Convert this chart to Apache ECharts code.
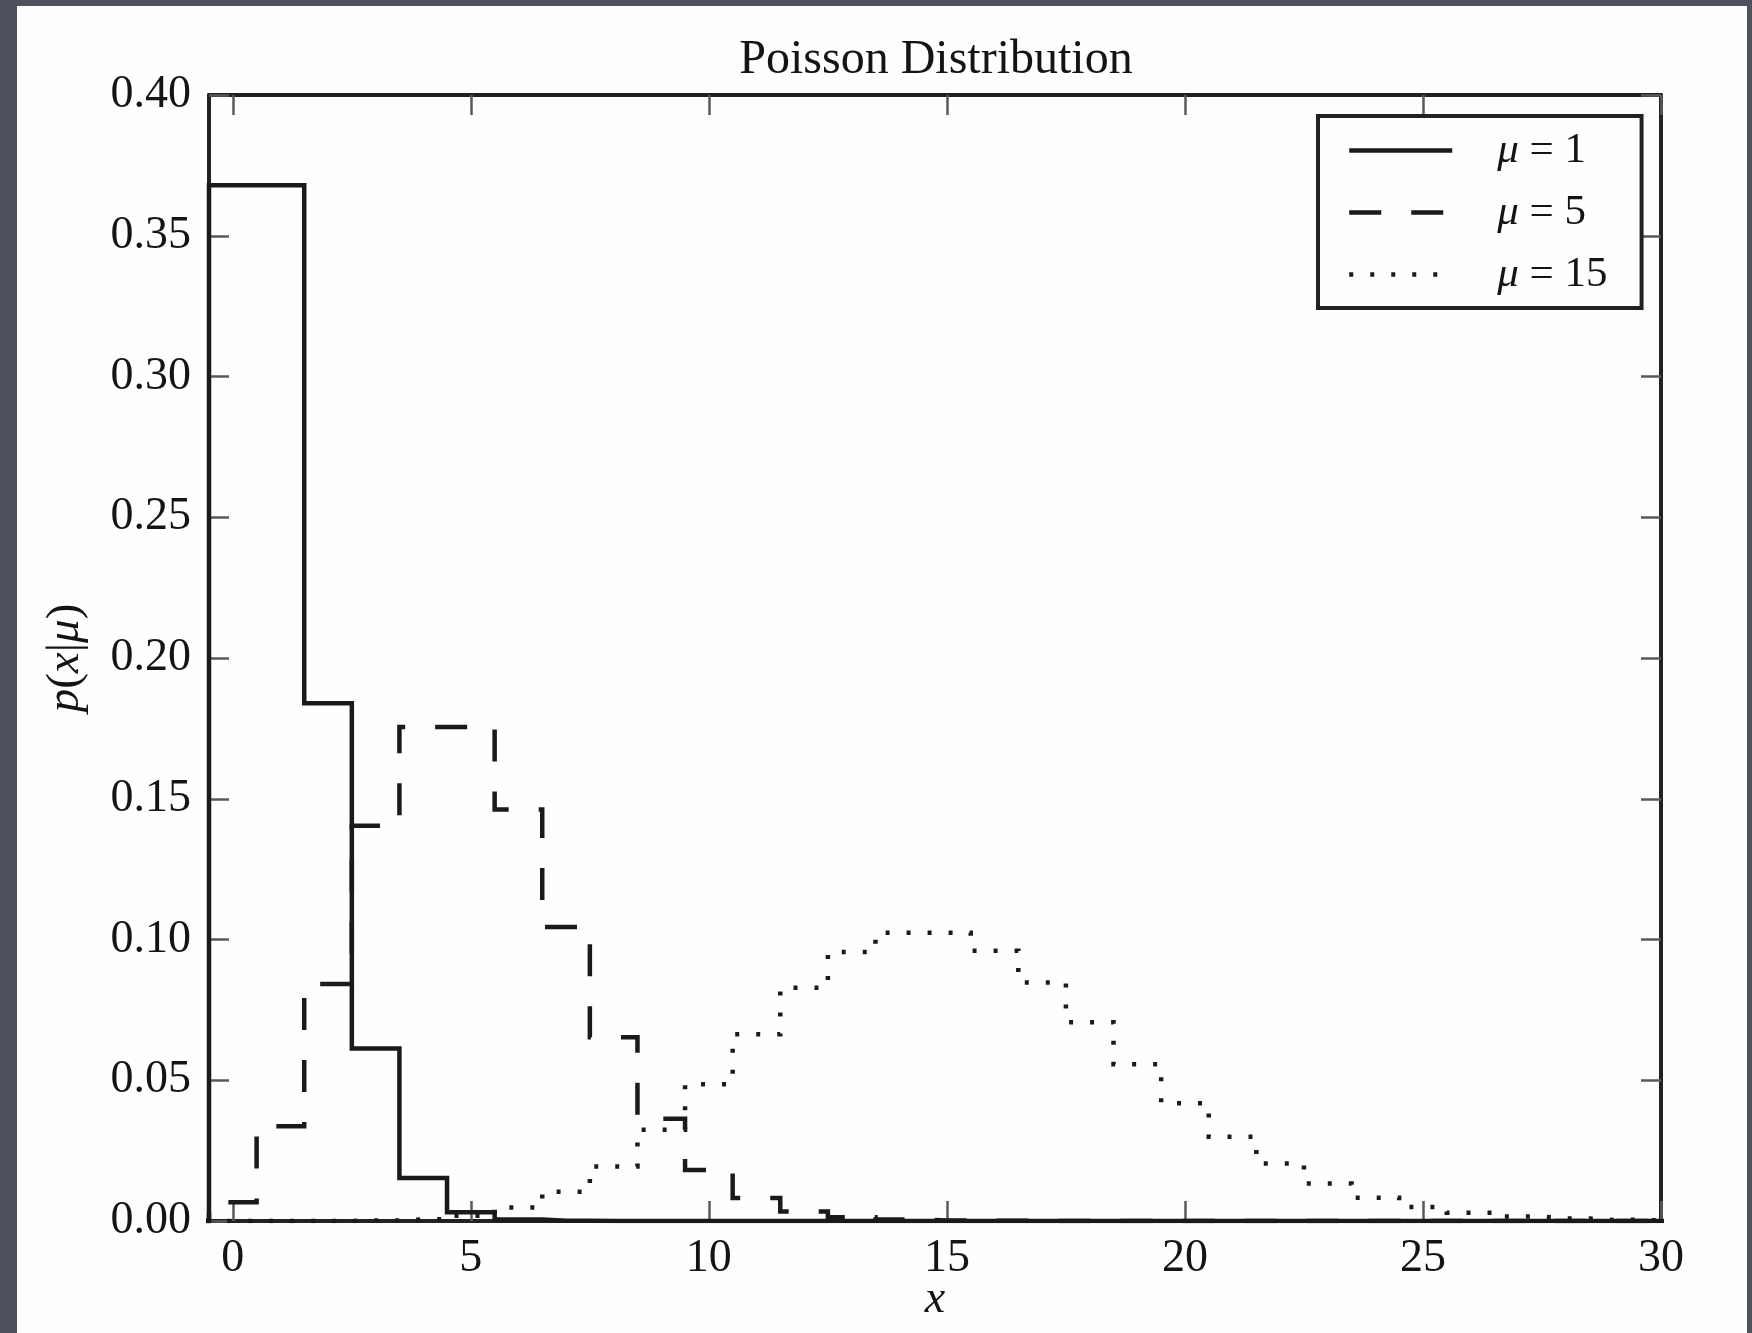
<!DOCTYPE html>
<html>
<head>
<meta charset="utf-8">
<script src="https://cdn.jsdelivr.net/npm/echarts@6/dist/echarts.min.js"></script>
<style>
  html, body { margin: 0; padding: 0; width: 1752px; height: 1333px; overflow: hidden; background: #4e525d; }
  #panel { position: absolute; left: 17px; top: 6px; width: 1730px; height: 1327px; background: #fefefc; }
  #chart { position: absolute; left: 0; top: 0; width: 1752px; height: 1333px; }
</style>
</head>
<body>
<div id="panel"></div>
<div id="chart"></div>
<script>
// integer outcomes x
const xs = [-1, 0, 1, 2, 3, 4, 5, 6, 7, 8, 9, 10, 11, 12, 13, 14, 15, 16,
            17, 18, 19, 20, 21, 22, 23, 24, 25, 26, 27, 28, 29, 30, 31, 32];

// p(x|mu) for mu = 1
const pMu1 = [0, 0.3679, 0.3679, 0.1839, 0.0613, 0.0153, 0.0031, 0.0005, 0.0001, 0,
              0, 0, 0, 0, 0, 0, 0, 0, 0, 0, 0, 0, 0, 0, 0, 0, 0, 0, 0, 0, 0, 0, 0, 0];

// p(x|mu) for mu = 5
const pMu5 = [0, 0.0067, 0.0337, 0.0842, 0.1404, 0.1755, 0.1755, 0.1462, 0.1044, 0.0653,
              0.0363, 0.0181, 0.0082, 0.0034, 0.0013, 0.0005, 0.0002, 0.0001,
              0, 0, 0, 0, 0, 0, 0, 0, 0, 0, 0, 0, 0, 0, 0, 0];

// p(x|mu) for mu = 15
const pMu15 = [0, 0, 0, 0, 0.0002, 0.0006, 0.0019, 0.0048, 0.0104, 0.0194,
               0.0324, 0.0486, 0.0663, 0.0829, 0.0956, 0.1024, 0.1024, 0.0960, 0.0847, 0.0706,
               0.0557, 0.0418, 0.0299, 0.0204, 0.0133, 0.0083, 0.0050, 0.0029, 0.0016, 0.0009,
               0.0004, 0.0002, 0.0001, 0.0001];

const muValues = [1, 5, 15];
const xTicks = [0, 5, 10, 15, 20, 25, 30];

const FONT = 'Liberation Serif';
const INK = '#1a1a1a';
const SPINE = { show: true, onZero: false, lineStyle: { color: '#222', width: 4 } };
const TICK = { show: true, inside: true, length: 20, lineStyle: { color: '#5a5a5a', width: 2.5 } };

const pairs = ys => xs.map((x, i) => [x, ys[i]]);
const dashTypes = ['solid', [32, 30], [4, 17]];
const curves = [pMu1, pMu5, pMu15];

const series = curves.map((ys, k) => ({
  name: 'μ = ' + muValues[k],
  type: 'line',
  step: 'middle',
  symbol: 'none',
  showSymbol: false,
  clip: true,
  color: INK,
  itemStyle: { color: INK },
  lineStyle: { color: INK, width: 4.5, type: dashTypes[k], cap: 'butt', join: 'miter' },
  data: pairs(ys),
  z: 3
}));

const chart = echarts.init(document.getElementById('chart'), null, { renderer: 'canvas' });
chart.setOption({
  animation: false,
  backgroundColor: 'transparent',
  title: {
    text: 'Poisson Distribution',
    left: 936,
    textAlign: 'center',
    top: 36,
    padding: 0,
    textStyle: { fontFamily: FONT, fontSize: 48, fontWeight: 'normal', color: '#141414' }
  },
  grid: { left: 209, right: 91, top: 95, bottom: 112, outerBoundsMode: 'none', containLabel: false },
  legend: {
    orient: 'vertical',
    left: 1318,
    top: 116,
    padding: [13, 34, 12, 29],
    itemWidth: 103,
    itemHeight: 44,
    itemGap: 19,
    borderColor: '#222',
    borderWidth: 4,
    backgroundColor: '#fefefc',
    itemStyle: { opacity: 0, color: 'transparent', borderWidth: 0 },
    lineStyle: { width: 4.5 },
    data: series.map(s => s.name),
    formatter: name => '{i|μ}' + name.slice(1),
    textStyle: {
      fontFamily: FONT, fontSize: 43, color: '#141414', padding: [0, 0, 0, 40],
      rich: { i: { fontFamily: FONT, fontSize: 43, fontStyle: 'italic', color: '#141414' } }
    }
  },
  xAxis: [
    {
      type: 'value', position: 'bottom', min: -0.5, max: 30,
      axisLine: SPINE,
      axisTick: Object.assign({ customValues: xTicks }, TICK),
      splitLine: { show: false },
      axisLabel: { customValues: xTicks, margin: 15, fontFamily: FONT, fontSize: 46, color: '#141414' },
      name: 'x',
      nameLocation: 'middle',
      nameGap: 56,
      nameMoveOverlap: false,
      nameTextStyle: { fontFamily: FONT, fontSize: 46, fontStyle: 'italic', color: '#141414' }
    },
    {
      type: 'value', position: 'top', min: -0.5, max: 30,
      axisLine: SPINE,
      axisTick: Object.assign({ customValues: xTicks }, TICK),
      splitLine: { show: false },
      axisLabel: { show: false }
    }
  ],
  yAxis: [
    {
      type: 'value', position: 'left', min: 0, max: 0.4, interval: 0.05,
      axisLine: SPINE,
      axisTick: TICK,
      splitLine: { show: false },
      axisLabel: {
        margin: 18, fontFamily: FONT, fontSize: 46, color: '#141414',
        formatter: v => v.toFixed(2)
      },
      name: '{i|p}({i|x}|{i|μ})',
      nameLocation: 'middle',
      nameGap: 120,
      nameMoveOverlap: false,
      nameTextStyle: {
        fontFamily: FONT, fontSize: 47, color: '#141414',
        rich: { i: { fontFamily: FONT, fontSize: 47, fontStyle: 'italic', color: '#141414' } }
      }
    },
    {
      type: 'value', position: 'right', min: 0, max: 0.4, interval: 0.05,
      axisLine: SPINE,
      axisTick: TICK,
      splitLine: { show: false },
      axisLabel: { show: false }
    }
  ],
  series: series
});
</script>
</body>
</html>
